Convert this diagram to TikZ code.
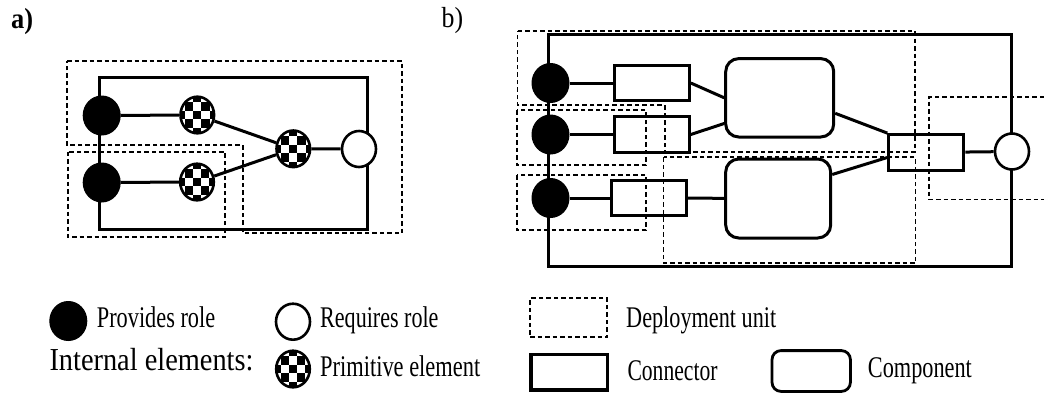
\documentclass[tikz,border=0pt]{standalone}
\usepackage{fontspec}
\setmainfont{Liberation Serif}
\usetikzlibrary{shapes.geometric,calc}
\tikzset{
  solidln/.style={line width=3pt},
  dashln/.style={line width=1.8pt, dash pattern=on 4.5pt off 3pt},
  frame/.style={draw, rectangle, line width=3pt, inner sep=0pt},
  prov/.style={ellipse, fill=black, draw=black, line width=1pt, minimum width=37pt, minimum height=39pt, inner sep=0pt},
  req/.style={ellipse, fill=white, draw=black, line width=2.6pt, minimum width=34pt, minimum height=36pt, inner sep=0pt},
  prim/.style={ellipse, fill=white, draw=black, line width=2.6pt, minimum width=33.6pt, minimum height=36.6pt, inner sep=0pt,
    path picture={
      \foreach \i in {-3,...,3}{\foreach \j in {-3,...,3}{
        \pgfmathtruncatemacro\cb{mod(\i+\j+20,2)}
        \ifnum\cb=0
          \fill[black, shift={(path picture bounding box.center)}] (\i*8.2pt-4.1pt,\j*8.6pt-4.3pt) rectangle ++(8.2pt,8.6pt);
        \fi
      }}
    }},
  conn/.style={draw, rectangle, line width=3pt, minimum width=75pt, minimum height=35.8pt, inner sep=0pt},
  comp/.style={draw, rectangle, rounded corners=13pt, line width=3pt, inner sep=0pt},
  dunit/.style={draw, rectangle, dashln, inner sep=0pt},
  lab/.style={anchor=base west, inner sep=0pt, font=\fontsize{30}{33}\selectfont},
  tag/.style={anchor=base west, inner sep=0pt, font=\fontsize{29}{32}\selectfont}
}
\begin{document}
\begin{tikzpicture}[x=1pt,y=-1pt]
\useasboundingbox (0,0) rectangle (1044,394);

% labels a) b)
\node[tag, font=\fontsize{29}{32}\selectfont\bfseries] (ta) at (11,28) {\resizebox{22pt}{\height}{a)}};
\node[tag] (tb) at (441.5,27.5) {\resizebox{21.5pt}{\height}{b)}};

% ---------------- a) ----------------
\node[frame, minimum width=267.7pt, minimum height=152pt] (fa) at (233.15,153.3) {};
\node[prov] (a1) at (101.7,115.5) {};
\node[prov] (a2) at (101.7,182.5) {};
\node[prim] (ap1) at (197.3,115) {};
\node[prim] (ap2) at (197,182) {};
\node[prim] (ap3) at (293.3,148.8) {};
\node[req] (ar) at (359,149) {};
\draw[solidln] (a1) -- (ap1);
\draw[solidln] (a2) -- (ap2);
\draw[solidln] (ap1) -- (ap3);
\draw[solidln] (ap2) -- (ap3);
\draw[solidln] (ap3) -- (ar);
\draw[dashln] (67,60.7) -- (401.7,60.7) -- (401.7,233.3) -- (242.7,233.3) -- (242.7,145) -- (67,145) -- cycle;
\draw[dashln] (67.7,151.7) rectangle (225,237.3);

% ---------------- b) ----------------
\node[frame, minimum width=463pt, minimum height=231.7pt] (fb) at (780,150.15) {};
\node[prov] (f1) at (550.5,83) {};
\node[prov] (f2) at (550.5,134.5) {};
\node[prov] (f3) at (550.5,198) {};
\node[conn] (r1) at (651.8,83) {};
\node[conn] (r2) at (651.8,134.5) {};
\node[conn] (r3) at (649,198) {};
\node[comp, minimum width=108pt, minimum height=78.4pt] (c1) at (779.7,97.8) {};
\node[comp, minimum width=105pt, minimum height=79pt] (c2) at (778.2,198.5) {};
\node[conn] (r4) at (926.3,152.5) {};
\node[req] (br) at (1012,151.5) {};
\draw[solidln] (f1) -- (r1);
\draw[solidln] (f2) -- (r2);
\draw[solidln] (f3) -- (r3);
\draw[solidln] (r1.east) -- (c1.west);
\draw[solidln] (r2.east) -- ($(c1.south west)+(0,-15)$);
\draw[solidln] (r3) -- (c2);
\draw[solidln] ($(c1.east)+(0,15.5)$) -- (r4.north west);
\draw[solidln] ($(c2.east)+(0,-24)$) -- ($(r4.west)+(0,5)$);
\draw[solidln] (r4) -- (br);
\draw[dashln] (517.5,30.7) -- (914.6,30.7) -- (914.6,151.7) -- (664.7,151.7) -- (664.7,105) -- (517.5,105) -- cycle;
\draw[dashln] (516.7,110) rectangle (646,165);
\draw[dashln] (516.7,175) rectangle (646,230);
\draw[dashln] (663.5,157.3) rectangle (915.4,263.3);
\draw[dashln] (1044,96.7) -- (929,96.7) -- (929,199.5) -- (1044,199.5);

% ---------------- legend ----------------
\node[prov] (lprov) at (68.3,321) {};
\node[lab] (tprov) at (96.7,327) {\resizebox{118.3pt}{\height}{Provides role}};
\node[req] (lreq) at (293,321.7) {};
\node[lab] (treq) at (320,327) {\resizebox{118.3pt}{\height}{Requires role}};
\node[lab, font=\fontsize{32}{35}\selectfont] (tint) at (49.3,370) {\resizebox{204pt}{\height}{Internal elements:}};
\node[prim] (lprim) at (293,369) {};
\node[lab] (tprim) at (320,376) {\resizebox{160pt}{\height}{Primitive element}};
\node[dunit, minimum width=77.3pt, minimum height=38.4pt] (ldu) at (568.65,317.5) {};
\node[lab] (tdu) at (626,327) {\resizebox{150pt}{\height}{Deployment unit}};
\node[draw, rectangle, line width=3.6pt, minimum width=76.5pt, minimum height=35.5pt, inner sep=0pt] (lconn) at (569.3,372.2) {};
\node[lab] (tconn) at (627.3,380) {\resizebox{90pt}{\height}{Connector}};
\node[draw, rectangle, rounded corners=9pt, line width=2.8pt, minimum width=78.4pt, minimum height=40.8pt, inner sep=0pt] (lcomp) at (811.2,371) {};
\node[lab] (tcomp) at (867.7,377) {\resizebox{104pt}{\height}{Component}};
\end{tikzpicture}
\end{document}
